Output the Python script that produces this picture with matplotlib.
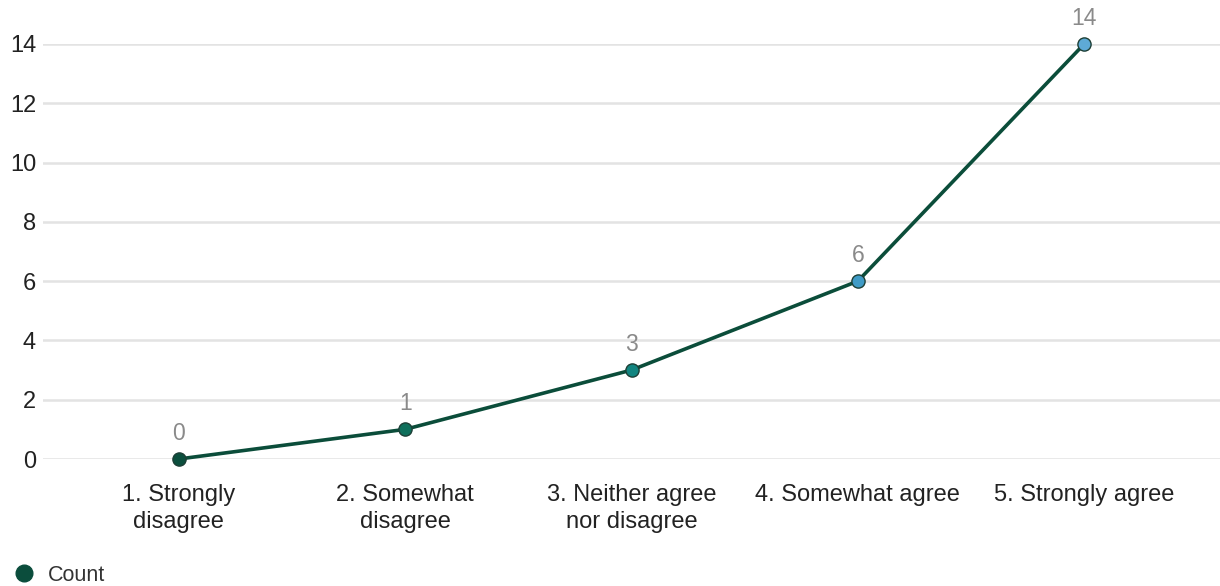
import matplotlib
matplotlib.use("Agg")
import matplotlib.pyplot as plt
from matplotlib.lines import Line2D

categories = ["1. Strongly\ndisagree", "2. Somewhat\ndisagree", "3. Neither agree\nnor disagree",
              "4. Somewhat agree", "5. Strongly agree"]
counts = [0, 1, 3, 6, 14]
point_colors = ["#0b4f3d", "#0e6f5b", "#128580", "#3f9bc6", "#5eaad6"]
y_ticks = [0, 2, 4, 6, 8, 10, 12, 14]

plt.rcParams["font.family"] = ["Liberation Sans", "DejaVu Sans"]

fig = plt.figure(figsize=(12.2, 5.86), dpi=100)
ax = fig.add_axes([43 / 1220, 1 - 459 / 586, 1 - 43 / 1220, (459 - 44) / 586])

x = list(range(len(categories)))
ax.plot(x, counts, color="#0b4d3a", linewidth=2.6, zorder=3, clip_on=False)
for xi, yi, c in zip(x, counts, point_colors):
    ax.plot(xi, yi, marker="o", markersize=9.5, markerfacecolor=c,
            markeredgecolor="#1d3f36", markeredgewidth=1.0, zorder=4, clip_on=False)
    ax.annotate(str(yi), (xi, yi), xytext=(0, 10), textcoords="offset points",
                ha="center", va="bottom", fontsize=16.5, color="#8a8a8a")

ax.set_xlim(-0.6, 4.6)
ax.set_ylim(0, 14)
ax.set_yticks(y_ticks)
ax.set_xticks(x)
ax.set_xticklabels(categories, linespacing=1.3)
ax.grid(axis="y", color="#e3e3e3", linewidth=1.8)
ax.set_axisbelow(True)
for s in ax.spines.values():
    s.set_visible(False)
ax.tick_params(axis="both", length=0, labelsize=17, colors="#222222")
ax.tick_params(axis="y", pad=5)
ax.tick_params(axis="x", pad=18)

fs_leg = 15.5
px = fs_leg * 100 / 72
handle = Line2D([], [], marker="o", linestyle="none", markersize=12,
                markerfacecolor="#0b4d3c", markeredgecolor="#0b4d3c")
fig.legend([handle], ["Count"], loc="lower left",
           bbox_to_anchor=((24 - 0.4 * px) / 1220, 0),
           frameon=False, fontsize=fs_leg, handlelength=0.8, handletextpad=0.72,
           borderpad=0, borderaxespad=0, labelcolor="#333333")

fig.savefig("out.png", dpi=100, facecolor="white")
